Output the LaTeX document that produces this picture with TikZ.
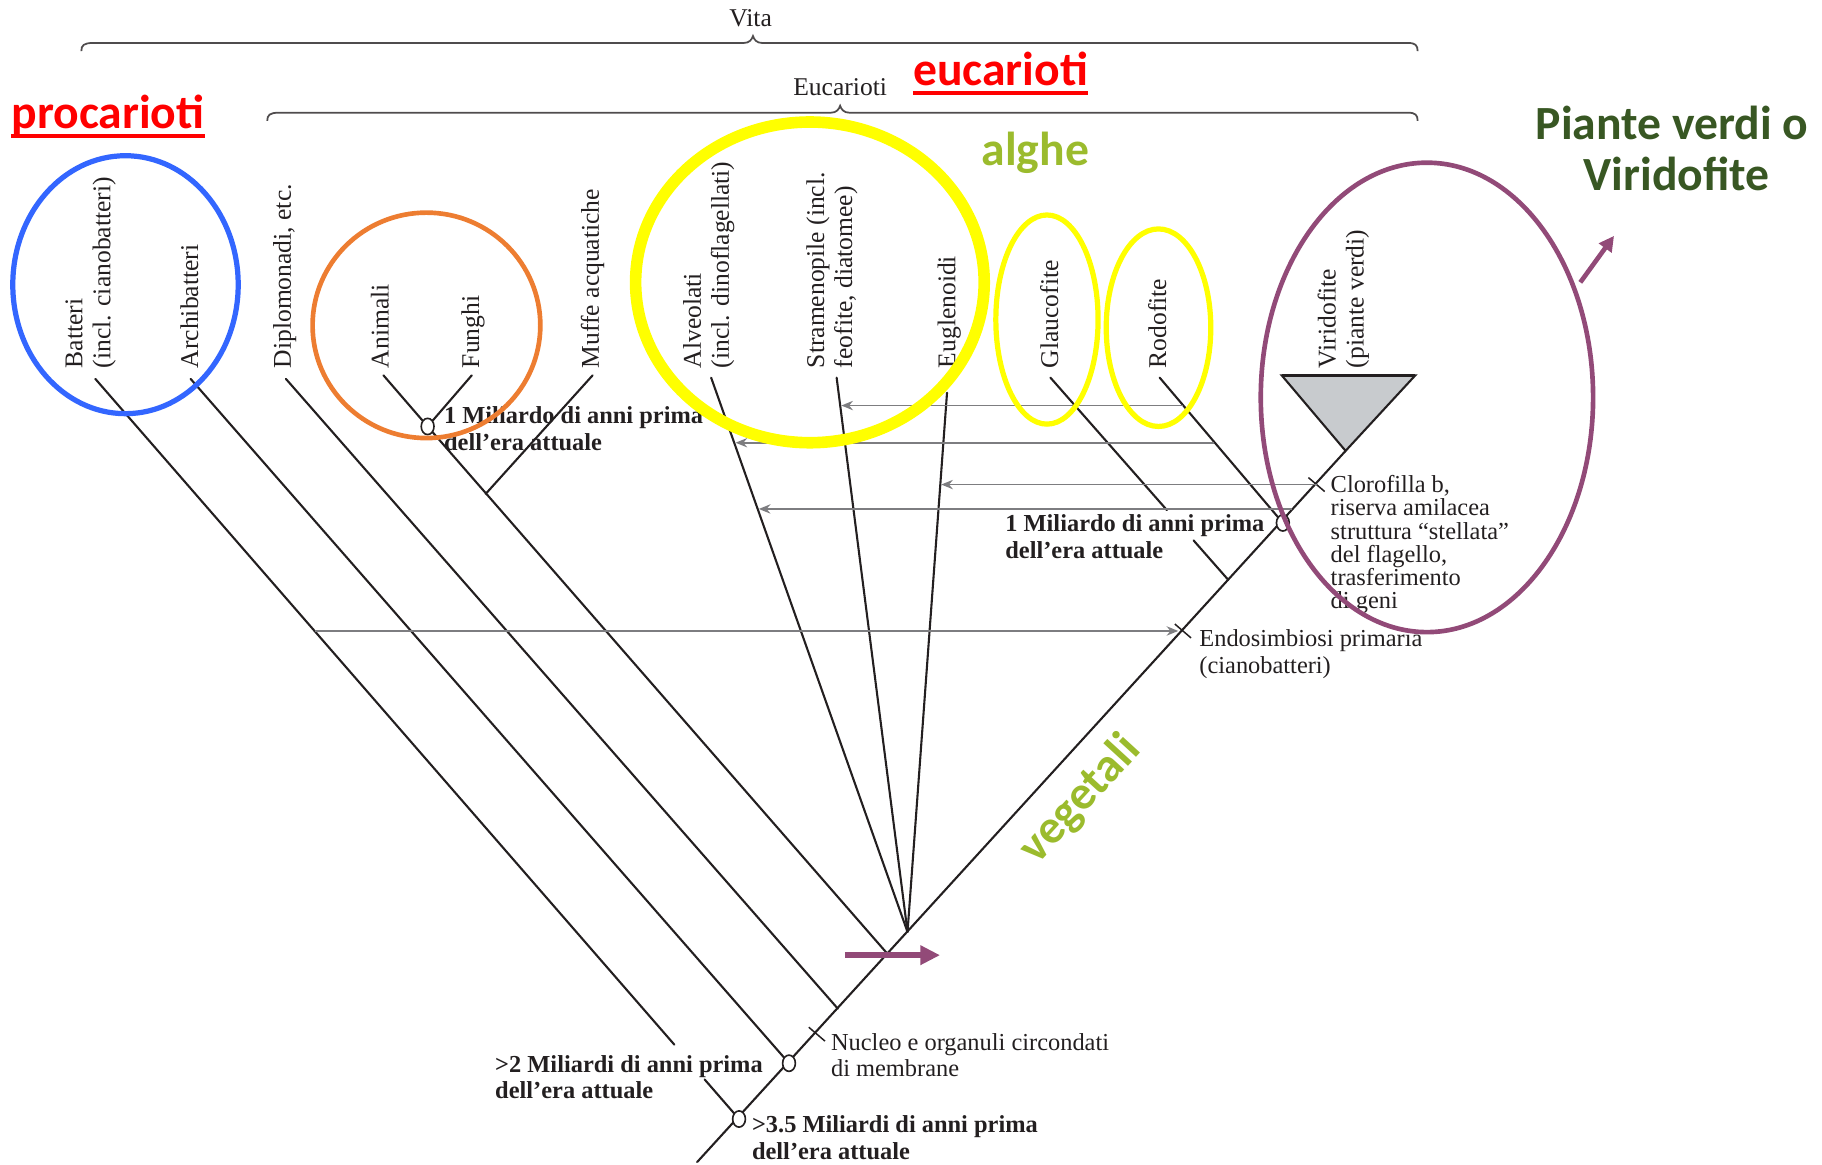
\documentclass[tikz,border=0pt]{standalone}
\usepackage{fontspec}
\setmainfont{Liberation Serif}
\newfontfamily\calfont{Carlito}
\usetikzlibrary{arrows.meta,calc}
\definecolor{ink}{RGB}{35,31,32}
\definecolor{arrgray}{RGB}{125,125,128}
\definecolor{eblue}{RGB}{51,102,255}
\definecolor{eorange}{RGB}{237,125,49}
\definecolor{eyellow}{RGB}{255,255,0}
\definecolor{epurple}{RGB}{146,74,120}
\definecolor{lgreen}{RGB}{155,187,45}
\definecolor{dgreen}{RGB}{56,87,35}
\definecolor{ered}{RGB}{255,0,0}
\definecolor{trifill}{RGB}{200,203,206}
\begin{document}
\begin{tikzpicture}[x=1pt,y=-1pt,
  branch/.style={draw=ink,line width=1.8pt,line cap=round},
  brace/.style={draw=ink!80,line width=1.5pt},
  gene/.style={draw=arrgray,line width=1.5pt,-{Stealth[length=10pt,width=8pt]}},
  tick/.style={draw=ink,line width=1.3pt},
  knot/.style={draw=ink,fill=white,line width=1.4pt},
  taxon/.style={rotate=90,anchor=west,inner sep=0pt,align=left,text=ink,font=\fontsize{22}{24}\selectfont},
  note/.style={anchor=north west,inner sep=0pt,align=left,text=ink,font=\fontsize{21}{23}\selectfont},
  bnote/.style={note,font=\fontsize{21}{23}\selectfont\bfseries},
  cl/.style={inner sep=0pt,font=\fontsize{41}{48}\selectfont\calfont\bfseries},
  head/.style={inner sep=0pt,text=ink,font=\fontsize{22}{24}\selectfont},
]
\useasboundingbox (0,0) rectangle (1568,1002);

% braces
\draw[brace] (70,44) .. controls (70,39) and (72,37) .. (80,37) -- (640,37)
  .. controls (645,37) and (647,34) .. (648,31) .. controls (649,34) and (651,37) .. (656,37)
  -- (1212,37) .. controls (1218,37) and (1220,39) .. (1220,44);
\node[head] (vita) at (646,16) {Vita};
\draw[brace] (230,104) .. controls (230,99) and (232,97) .. (240,97) -- (715,97)
  .. controls (720,97) and (722,94) .. (723,91) .. controls (724,94) and (726,97) .. (731,97)
  -- (1212,97) .. controls (1218,97) and (1220,99) .. (1220,104);
\node[head] (euc) at (723,75) {Eucarioti};

% tree coordinates
\coordinate (root) at (600,1000);
\coordinate (n35) at (636,963);
\coordinate (n2) at (679,915);
\coordinate (tNuc) at (703,890);
\coordinate (jDip) at (721,868);
\coordinate (jAni) at (763,820);
\coordinate (jFan) at (781,802);
\coordinate (tEndo) at (1018,543);
\coordinate (jGla) at (1057,499);
\coordinate (nRod) at (1104,450);
\coordinate (tClo) at (1133,417);
\coordinate (apex) at (1158,388);
\coordinate (lBat) at (82,326);
\coordinate (lArc) at (164,326);
\coordinate (lDip) at (246,326);
\coordinate (lAni) at (330,323);
\coordinate (lFun) at (406,323);
\coordinate (nAF) at (368,367);
\coordinate (jMuf) at (418,425);
\coordinate (lMuf) at (510,323);
\coordinate (lAlv) at (612,325);
\coordinate (lStr) at (720,325);
\coordinate (lEug) at (815,338);
\coordinate (lGla) at (904,325);
\coordinate (lRod) at (998,325);

% trunk
\draw[branch] (root) -- (apex);
% branches
\draw[branch] (lBat) -- ($(lBat)!0.8995!(n35)$);
\draw[branch] ($(lBat)!0.9466!(n35)$) -- (n35);
\draw[branch] (lArc) -- (n2);
\draw[branch] (lDip) -- (jDip);
\draw[branch] (lAni) -- (nAF);
\draw[branch] (lFun) -- (nAF);
\draw[branch] (nAF) -- (jAni);
\draw[branch] (lMuf) -- (jMuf);
\draw[branch] (lAlv) -- (jFan);
\draw[branch] (lStr) -- (jFan);
\draw[branch] (lEug) -- (jFan);
\draw[branch] (lGla) -- ($(lGla)!0.655!(jGla)$);
\draw[branch] ($(lGla)!0.805!(jGla)$) -- (jGla);
\draw[branch] (lRod) -- (nRod);

% triangle
\draw[draw=ink,fill=trifill,line width=1.8pt,line join=miter] (1103,323) -- (1218,323) -- (apex) -- cycle;
\draw[ink,line width=2.6pt] (1103,323) -- (1218,323);

% ticks
\foreach \t in {tNuc,tEndo,tClo}{\draw[tick] ($(\t)+(-7,-6)$) -- ($(\t)+(7,6)$);}

% gene transfer arrows
\coordinate (a1s) at (1018,349); \coordinate (a1e) at (724,349);
\coordinate (a2s) at (1045,381); \coordinate (a2e) at (633,381);
\coordinate (a3s) at (1133,417); \coordinate (a3e) at (810,417);
\coordinate (a4s) at (1112,438); \coordinate (a4e) at (653,438);
\coordinate (a5s) at (271,543); \coordinate (a5e) at (1014,543);
\draw[gene] (a1s) -- (a1e);
\draw[gene] (a2s) -- (a2e);
\draw[gene] (a3s) -- (a3e);
\draw[gene] (a4s) -- (a4e);
\draw[gene] (a5s) -- (a5e);

% knots
\foreach \k in {nAF,nRod,n2,n35}{\draw[knot] (\k) ellipse [x radius=5.5pt, y radius=7pt];}

% taxon labels
\node[taxon] (tBat) at (78,317) {Batteri\\(incl. cianobatteri)};
\node[taxon] (tArc) at (163,317) {Archibatteri};
\node[taxon] (tDip) at (245,317) {Diplomonadi, etc.};
\node[taxon] (tAni) at (327,317) {Animali};
\node[taxon] (tFun) at (407,317) {Funghi};
\node[taxon] (tMuf) at (510,317) {Muffe acquatiche};
\node[taxon] (tAlv) at (610,317) {Alveolati\\(incl. dinoflagellati)};
\node[taxon] (tStr) at (716,317) {Stramenopile (incl.\\feofite, diatomee)};
\node[taxon] (tEug) at (817,317) {Euglenoidi};
\node[taxon] (tGla) at (903,317) {Glaucofite};
\node[taxon] (tRod) at (996,317) {Rodofite};
\node[taxon] (tVir) at (1156,317) {Viridofite\\(piante verdi)};

% notes
\node[bnote] (mAF) at (382,350) {1 Miliardo di anni prima\\dell’era attuale};
\node[note,font=\fontsize{21}{20}\selectfont] (clo) at (1145,409) {Clorofilla b,\\riserva amilacea\\struttura “stellata”\\del flagello,\\trasferimento\\di geni};
\node[bnote] (mGla) at (865,443) {1 Miliardo di anni prima\\dell’era attuale};
\node[note] (endo) at (1032,542) {Endosimbiosi primaria\\(cianobatteri)};
\node[note] (nuc) at (715,889) {Nucleo e organuli circondati\\di membrane};
\node[bnote] (m2) at (426,908) {>2 Miliardi di anni prima\\dell’era attuale};
\node[bnote] (m35) at (647,960) {>3.5 Miliardi di anni prima\\dell’era attuale};

% coloured overlay
\draw[eblue,line width=4.5pt] (108,245) ellipse [x radius=97pt, y radius=111pt];
\draw[eorange,line width=4pt] (367,280) ellipse [x radius=98pt, y radius=97pt];
\draw[eyellow,line width=10pt] (697,243) ellipse [x radius=150pt, y radius=138pt];
\draw[eyellow,line width=4.5pt] (901,275) ellipse [x radius=44pt, y radius=90pt];
\draw[eyellow,line width=4.5pt] (997,282) ellipse [x radius=45pt, y radius=85pt];
\draw[epurple,line width=4pt] (1228,342) ellipse [x radius=143pt, y radius=202pt];

\node[cl,text=ered,anchor=base] (pro) at (93,111) {procarioti};
\draw[ered,line width=3pt] ([yshift=-6pt]pro.base west) -- ([yshift=-6pt]pro.base east);
\node[cl,text=ered,anchor=base] (euk) at (861,74) {eucarioti};
\draw[ered,line width=3pt] ([yshift=-6pt]euk.base west) -- ([yshift=-6pt]euk.base east);
\node[cl,text=lgreen,anchor=base] (alg) at (891,142) {alghe};
\node[cl,text=dgreen,anchor=base] (pv1) at (1439,120) {Piante verdi o};
\node[cl,text=dgreen,anchor=base] (pv2) at (1443,164) {Viridofite};
\node[cl,text=lgreen,rotate=47.5] (veg) at (930,688) {vegetali};

\coordinate (pa1) at (1360,243); \coordinate (pa2) at (1389,203);
\draw[epurple,line width=4pt,-{Triangle[length=13pt,width=13pt]}] (pa1) -- (pa2);
\coordinate (pb1) at (727,822); \coordinate (pb2) at (809,822);
\draw[epurple,line width=5pt,-{Triangle[length=17pt,width=16pt]}] (pb1) -- (pb2);
\end{tikzpicture}
\end{document}
